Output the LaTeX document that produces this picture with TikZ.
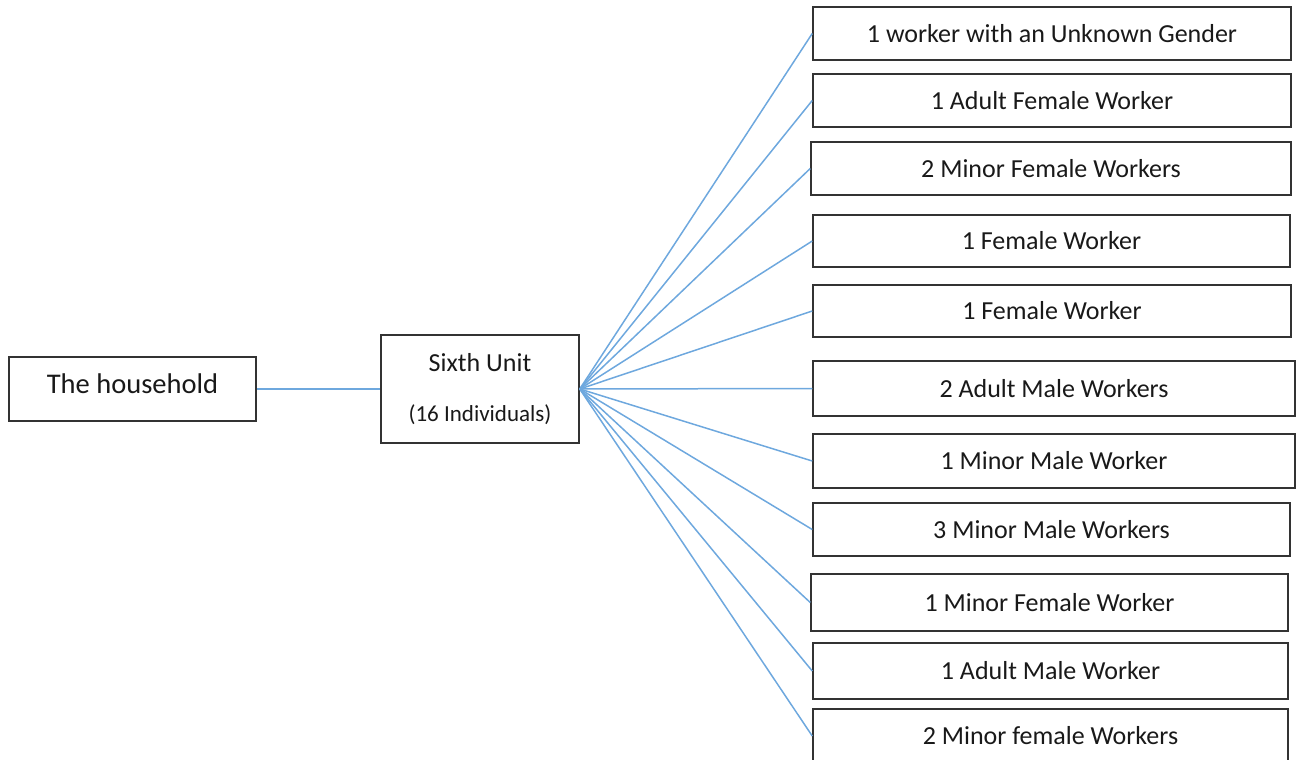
\documentclass[tikz,border=0pt]{standalone}
\usepackage{fontspec}
\setmainfont{Carlito}
\definecolor{linkblue}{RGB}{110,168,222}
\tikzset{
  box/.style={draw=black!80, line width=1.5pt, inner sep=0pt, text=black!90, font=\fontsize{26}{30}\selectfont},
  link/.style={draw=linkblue, line width=1.5pt},
}

\begin{document}
\begin{tikzpicture}[x=1pt,y=-1pt]
\useasboundingbox (0,0) rectangle (1301,760);
\node[box, minimum width=247pt, minimum height=64pt, text depth=11pt, font=\fontsize{28.5}{32}\selectfont] (home) at (132.5,389) {The household};
\node[box, minimum width=198pt, minimum height=108pt, align=center, text depth=4pt] (unit) at (480,389) {Sixth Unit\\[20pt]{\fontsize{23}{26}\selectfont (16 Individuals)}};
\foreach \i/\l/\r/\t/\b/\txt in {1/813/1291/7/60/{1 worker with an Unknown Gender}, 2/813/1291/74/127/{1 Adult Female Worker}, 3/811/1291/142/195/{2 Minor Female Workers}, 4/813/1290/215/267/{1 Female Worker}, 5/813/1291/285/337/{1 Female Worker}, 6/813/1295/361/416/{2 Adult Male Workers}, 7/813/1295/434/488/{1 Minor Male Worker}, 8/813/1290/503/556/{3 Minor Male Workers}, 9/811/1288/574/631/{1 Minor Female Worker}, 10/813/1288/643/699/{1 Adult Male Worker}, 11/813/1288/709/763/{2 Minor female Workers}} { \node[box, minimum width={\r pt-\l pt}, minimum height={\b pt-\t pt}] (w\i) at ({(\l+\r)/2},{(\t+\b)/2}) {\txt}; };
\draw[link] (home.east) -- (unit.west);
\foreach \i in {1,...,11} { \draw[link] (unit.east) -- (w\i.west); };
\end{tikzpicture}
\end{document}
